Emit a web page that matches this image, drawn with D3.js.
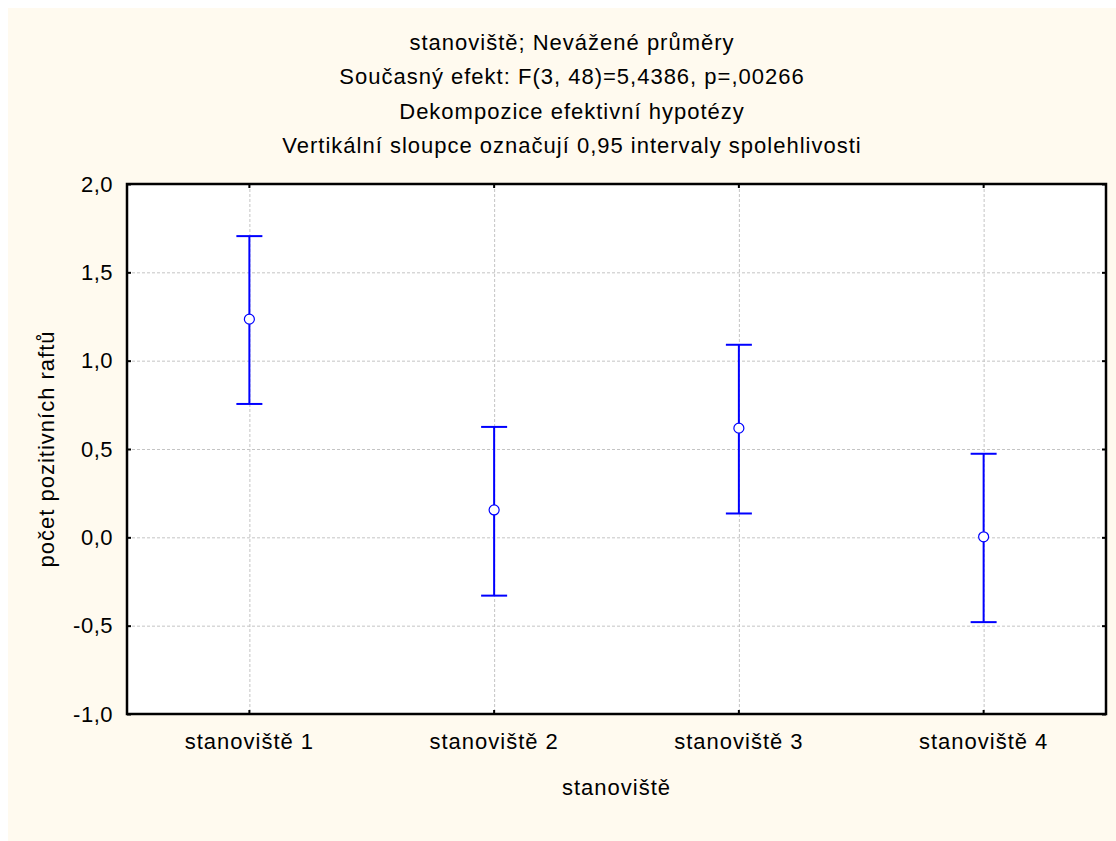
<!DOCTYPE html>
<html>
<head>
<meta charset="utf-8">
<script src="https://cdn.jsdelivr.net/npm/d3@7"></script>
<style>
  body { margin: 0; background: #fff; }
  text { font-family: "Liberation Sans", Arial, sans-serif; fill: #000; }
</style>
</head>
<body>
<div id="chart"></div>
<script>
// data
const sites = ["stanoviště 1", "stanoviště 2", "stanoviště 3", "stanoviště 4"];
const means = [1.235, 0.155, 0.618, 0.003];
const upper = [1.705, 0.625, 1.09, 0.473];
const lower = [0.755, -0.33, 0.135, -0.48];
const yTicks = [-1.0, -0.5, 0.0, 0.5, 1.0, 1.5, 2.0];
const titles = [
  "stanoviště; Nevážené průměry",
  "Současný efekt: F(3, 48)=5,4386, p=,00266",
  "Dekompozice efektivní hypotézy",
  "Vertikální sloupce označují 0,95 intervaly spolehlivosti"
];

const W = 1116, H = 841;
const margin = {left: 127, right: 10, top: 184, bottom: 127};
const pw = W - margin.left - margin.right;
const ph = H - margin.top - margin.bottom;

const svg = d3.select("#chart").append("svg")
  .attr("width", W).attr("height", H)

svg.append("rect")
  .attr("x", 8).attr("y", 8)
  .attr("width", W - 8).attr("height", H - 8)
  .attr("fill", "#fffaef")

const x = d3.scaleBand().domain(sites).range([0, pw]).paddingInner(0).paddingOuter(0);
const y = d3.scaleLinear().domain([-1, 2]).range([ph, 0]);
const cx = d => x(d) + x.bandwidth() / 2;

const g = svg.append("g").attr("transform", `translate(${margin.left},${margin.top})`)

g.append("rect").attr("width", pw).attr("height", ph).attr("fill", "#fff")

// grid
g.selectAll(".hgrid").data(yTicks.slice(1, -1)).join("line")
  .attr("x1", 0).attr("x2", pw)
  .attr("y1", d => y(d) + 0.5).attr("y2", d => y(d) + 0.5)
  .attr("stroke", "#c4c4c4").attr("stroke-dasharray", "3,2")
g.selectAll(".vgrid").data(sites).join("line")
  .attr("x1", d => cx(d) + 0.5).attr("x2", d => cx(d) + 0.5)
  .attr("y1", 0).attr("y2", ph)
  .attr("stroke", "#c4c4c4").attr("stroke-dasharray", "3,2")

// axes with inward ticks
const fmt = d => d3.format(".1f")(d).replace(".", ",").replace("−", "-");
const yAxis = g.append("g")
  .call(d3.axisLeft(y).tickValues(yTicks).tickSize(-4).tickPadding(14).tickFormat(fmt))
yAxis.selectAll("text").style("font-size", "22px").style("letter-spacing", "0.5px")
g.append("g").attr("transform", `translate(${pw},0)`)
  .call(d3.axisRight(y).tickValues(yTicks).tickSize(-4).tickFormat(""))
const xAxis = g.append("g").attr("transform", `translate(0,${ph})`)
  .call(d3.axisBottom(x).tickSize(-4).tickPadding(19))
xAxis.selectAll("text").style("font-size", "22px").style("letter-spacing", "1px")
g.append("g").call(d3.axisTop(x).tickSize(-4).tickFormat(""))
g.selectAll(".domain").remove();
g.selectAll(".tick line").attr("stroke", "#000").attr("stroke-width", 2);

g.append("rect").attr("width", pw).attr("height", ph)
  .attr("fill", "none").attr("stroke", "#000").attr("stroke-width", 2.5)

// error bars
const bars = g.selectAll(".bar").data(sites).join("g").attr("class", "bar")
bars.append("line")
  .attr("x1", d => cx(d)).attr("x2", d => cx(d))
  .attr("y1", (d, i) => y(upper[i])).attr("y2", (d, i) => y(lower[i]))
  .attr("stroke", "#0000ff").attr("stroke-width", 2)
bars.append("line")
  .attr("x1", d => cx(d) - 13).attr("x2", d => cx(d) + 13)
  .attr("y1", (d, i) => y(upper[i])).attr("y2", (d, i) => y(upper[i]))
  .attr("stroke", "#0000ff").attr("stroke-width", 2)
bars.append("line")
  .attr("x1", d => cx(d) - 13).attr("x2", d => cx(d) + 13)
  .attr("y1", (d, i) => y(lower[i])).attr("y2", (d, i) => y(lower[i]))
  .attr("stroke", "#0000ff").attr("stroke-width", 2)
bars.append("circle")
  .attr("cx", d => cx(d)).attr("cy", (d, i) => y(means[i]))
  .attr("r", 5).attr("fill", "#fff").attr("stroke", "#0000ff").attr("stroke-width", 1.2)

// titles
svg.selectAll(".title").data(titles).join("text")
  .attr("x", 572).attr("y", (d, i) => 50 + i * 34.3)
  .attr("text-anchor", "middle").style("font-size", "22px").style("letter-spacing", "1px")
  .text(d => d)

svg.append("text")
  .attr("transform", `translate(54,${margin.top + ph / 2}) rotate(-90)`)
  .attr("text-anchor", "middle").style("font-size", "22px").style("letter-spacing", "1px")
  .text("počet pozitivních raftů")

svg.append("text")
  .attr("x", margin.left + pw / 2).attr("y", 795)
  .attr("text-anchor", "middle").style("font-size", "22px").style("letter-spacing", "1px")
  .text("stanoviště")
</script>
</body>
</html>
